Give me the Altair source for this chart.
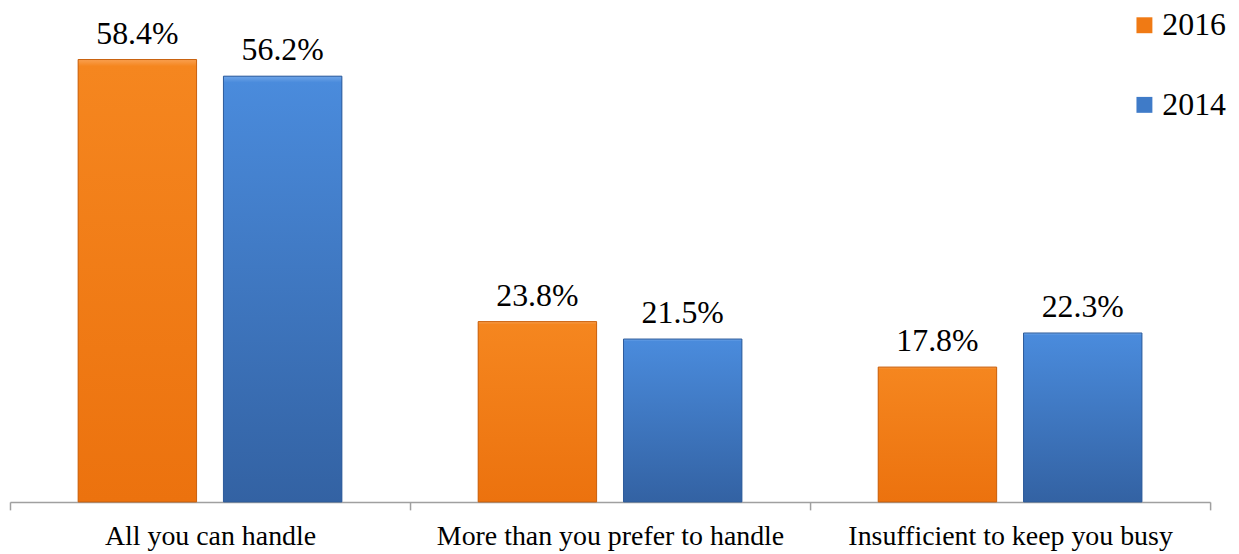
import altair as alt
import pandas as pd

categories = ["All you can handle", "More than you prefer to handle", "Insufficient to keep you busy"]
years = ["2016", "2014"]
values_2016 = [58.4, 23.8, 17.8]
values_2014 = [56.2, 21.5, 22.3]
year_colors = ["#F07A14", "#3F7BC8"]
FONT = "Liberation Serif, Times New Roman, Times, serif"

rows = []
for c, v in zip(categories, values_2016):
    rows.append({"category": c, "year": "2016", "value": v})
for c, v in zip(categories, values_2014):
    rows.append({"category": c, "year": "2014", "value": v})
df = pd.DataFrame(rows)
df["label"] = df["value"].map(lambda v: f"{v:.1f}%")

x = alt.X("category:N", sort=categories,
          scale=alt.Scale(paddingInner=0, paddingOuter=0),
          axis=alt.Axis(title=None, labelAngle=0, tickBand="extent", labelLimit=0))
xo = alt.XOffset("year:N", sort=years,
                 scale=alt.Scale(domain=years, paddingInner=0.185, paddingOuter=0.469))
y = alt.Y("value:Q", scale=alt.Scale(domain=[0, 64.5]), axis=None)

base = alt.Chart(df)

bars = base.mark_bar().encode(
    x=x, xOffset=xo, y=y,
    color=alt.Color("year:N", sort=years,
                    scale=alt.Scale(domain=years, range=year_colors),
                    legend=alt.Legend(title=None, orient="none", legendX=1124, legendY=-4,
                                      symbolType="square", symbolSize=256,
                                      symbolStrokeWidth=0,
                                      labelFont=FONT, labelFontSize=32,
                                      labelColor="black", labelOffset=2,
                                      rowPadding=48, padding=0)),
)

def grad(stops):
    return alt.Gradient(
        gradient="linear",
        stops=[alt.GradientStop(color=c, offset=o) for o, c in stops],
        x1=0, x2=0, y1=0, y2=1,
    )

orange_grad = grad([(0, "#F9A050"), (0.015, "#F5861F"), (1, "#EC720E")])
blue_grad = grad([(0, "#6FA5E8"), (0.015, "#4A8BDC"), (1, "#3362A3")])

over16 = base.transform_filter(alt.datum.year == "2016").mark_bar(
    fill=orange_grad, stroke="#C96210", strokeWidth=1
).encode(x=x, xOffset=xo, y=y)
over14 = base.transform_filter(alt.datum.year == "2014").mark_bar(
    fill=blue_grad, stroke="#2E5C9A", strokeWidth=1
).encode(x=x, xOffset=xo, y=y)

labels = base.mark_text(font=FONT, fontSize=32, baseline="alphabetic",
                        dy=-16, color="black").encode(
    x=x, xOffset=xo, y=y, text="label:N"
)

chart = alt.layer(bars, over16, over14, labels).properties(
    width=1206, height=491,
    autosize=alt.AutoSizeParams(type="none"),
    padding={"left": 2, "top": 4, "right": 21, "bottom": 50},
).configure_view(stroke=None).configure_axis(
    domainColor="#A0A0A0", domainWidth=1.5, tickColor="#A0A0A0", tickWidth=1.5,
    tickSize=8, labelFont=FONT, labelFontSize=28, labelColor="black",
    labelPadding=13, grid=False,
)

chart.save("out.html", embed_options={"renderer": "svg", "actions": False})
